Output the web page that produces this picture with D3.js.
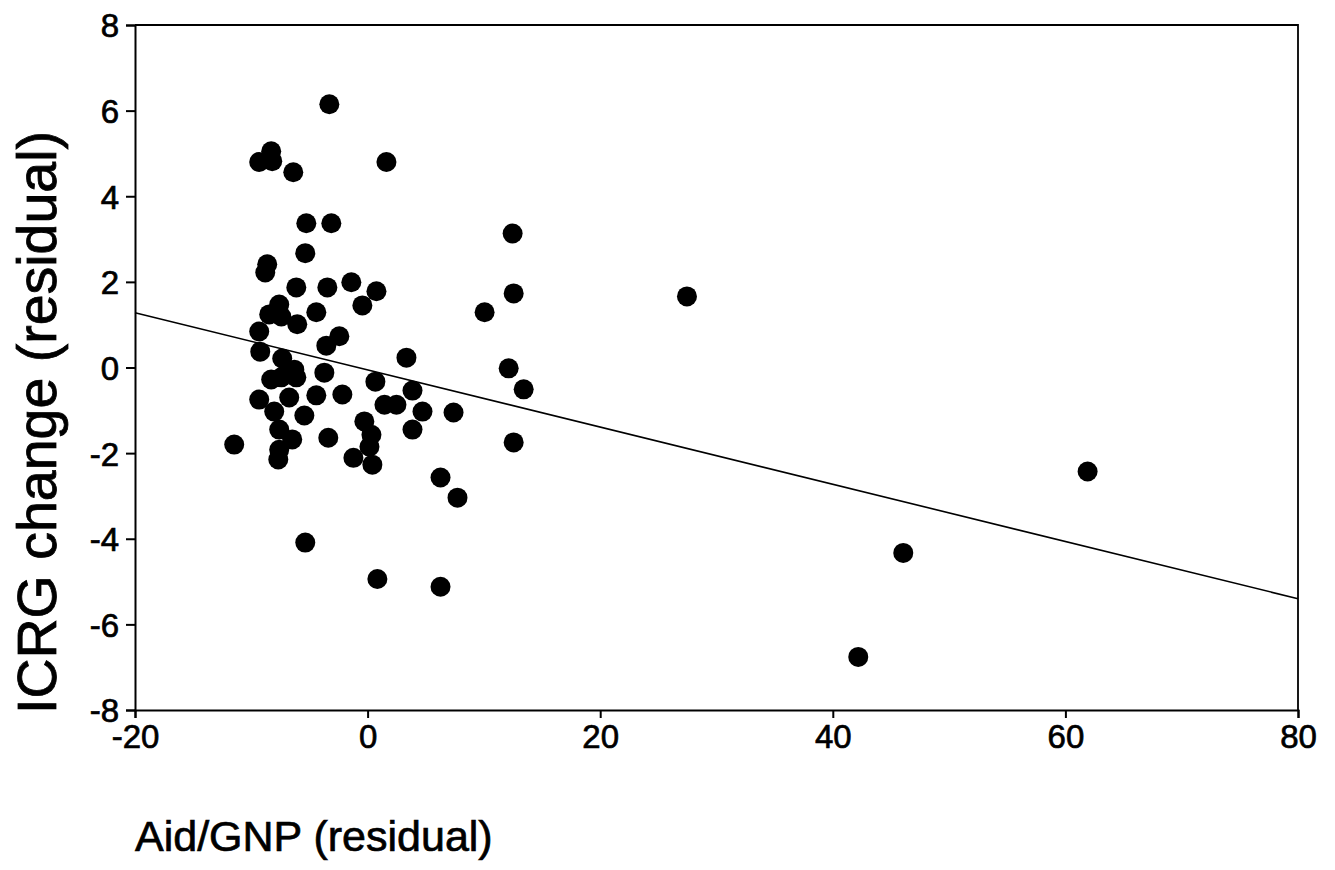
<!DOCTYPE html>
<html>
<head>
<meta charset="utf-8">
<script src="https://cdn.jsdelivr.net/npm/d3@7"></script>
<style>
  html, body { margin: 0; padding: 0; background: #fff; }
  svg { display: block; }
  text { font-family: Arial, "Liberation Sans", Helvetica, sans-serif; fill: #000; }
</style>
</head>
<body>
<svg id="chart" width="1335" height="870"></svg>
<script>
// ---- data ----
const aidGnp = [
  -3.29, -8.29, -9.32, -8.20, -6.39, 1.62, -5.27, -3.12, -5.36, -8.63,
  -8.80, -6.13, -3.46, -1.40, 0.76, -0.45, -7.60, -8.46, -7.42, -6.05,
  -4.41, -9.32, -2.43, -3.55, -9.23, -7.34, -6.30, -8.29, -7.42, -6.13,
  -3.72, 3.34, 0.67, 3.86, -9.32, -8.03, -6.74, -4.41, -2.17, 1.45,
  2.48, 4.72, -5.44, 7.39, -0.28, -7.60, -6.48, 0.33, 3.86, -7.60,
  -7.68, -11.47, -3.38, -1.22, 0.16, 0.41, 6.27, 12.47, 12.56, 10.06,
  12.13, 13.42, 12.56, 7.73, 0.84, 6.27, -5.36, 27.46, 42.19, 46.06,
  61.91
];
const icrgChange = [
  6.15, 5.05, 4.80, 4.82, 4.56, 4.80, 3.37, 3.37, 2.67, 2.41,
  2.22, 1.87, 1.87, 1.99, 1.78, 1.45, 1.47, 1.24, 1.19, 1.01,
  1.29, 0.84, 0.73, 0.51, 0.37, 0.21, -0.05, -0.28, -0.23, -0.23,
  -0.12, 0.23, -0.33, -0.54, -0.75, -1.03, -0.70, -0.65, -0.63, -0.87,
  -0.87, -1.03, -1.12, -1.05, -1.26, -1.45, -1.68, -1.57, -1.45, -1.92,
  -2.15, -1.80, -1.64, -2.11, -1.85, -2.27, -2.57, 3.13, 1.73, 1.29,
  -0.02, -0.51, -1.75, -3.04, -4.94, -5.12, -4.09, 1.66, -6.76, -4.33,
  -2.43
];
const fitX = [-20, 80];
const fitY = [1.28, -5.40];
const xTicks = [-20, 0, 20, 40, 60, 80];
const yTicks = [-8, -6, -4, -2, 0, 2, 4, 6, 8];
const xTitle = "Aid/GNP (residual)";
const yTitle = "ICRG change (residual)";

// ---- layout ----
const svg = d3.select("#chart");
const mLeft = 135, mRight = 1298, mTop = 25, mBottom = 710;

const x = d3.scaleLinear().domain([-20, 80]).range([mLeft, mRight]);
const y = d3.scaleLinear().domain([-8, 8]).range([mBottom, mTop]);

// frame (top and right borders)
svg.append("path")
  .attr("d", `M${mLeft},${mTop}H${mRight}V${mBottom}`)
  .attr("fill", "none").attr("stroke", "#000").attr("stroke-width", 1.8);

// axes (hyphen-minus labels like the original)
const fmt = d => String(d);
const xAxis = d3.axisBottom(x).tickValues(xTicks).tickSize(8).tickPadding(6).tickFormat(fmt);
const yAxis = d3.axisLeft(y).tickValues(yTicks).tickSize(9).tickPadding(7).tickFormat(fmt);

const gx = svg.append("g").attr("transform", `translate(0,${mBottom})`).call(xAxis);
const gy = svg.append("g").attr("transform", `translate(${mLeft},0)`).call(yAxis);

[gx, gy].forEach(g => {
  g.select(".domain").attr("stroke", "#000").attr("stroke-width", 2);
  g.selectAll(".tick line").attr("stroke", "#000").attr("stroke-width", 2);
  g.selectAll(".tick text")
    .attr("font-family", "Arial, 'Liberation Sans', sans-serif")
    .attr("font-size", 33).attr("fill", "#000")
    .attr("stroke", "#000").attr("stroke-width", 0.7);
});
gx.selectAll(".tick text").attr("dy", "0.72em").attr("y", 14);
gy.selectAll(".tick text").attr("dy", "0.36em");

// regression line
svg.append("line")
  .attr("x1", x(fitX[0])).attr("y1", y(fitY[0]))
  .attr("x2", x(fitX[1])).attr("y2", y(fitY[1]))
  .attr("stroke", "#000").attr("stroke-width", 1.6);

// points
svg.append("g").selectAll("circle")
  .data(aidGnp.map((v, i) => [v, icrgChange[i]]))
  .join("circle")
  .attr("cx", d => x(d[0]))
  .attr("cy", d => y(d[1]))
  .attr("r", 10)
  .attr("fill", "#000");

// titles
svg.append("text")
  .attr("x", 135).attr("y", 851)
  .attr("font-size", 43)
  .attr("stroke", "#000").attr("stroke-width", 0.7)
  .text(xTitle);

svg.append("text")
  .attr("transform", `translate(56,714) rotate(-90)`)
  .attr("text-anchor", "start")
  .attr("font-size", 55.5)
  .attr("stroke", "#000").attr("stroke-width", 0.8)
  .text(yTitle);
</script>
</body>
</html>
